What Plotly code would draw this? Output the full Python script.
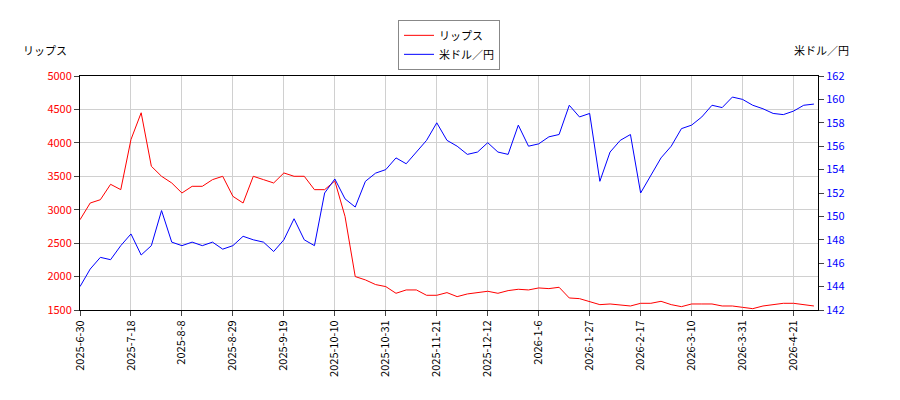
import plotly.graph_objects as go

tick_labels = ["2025-6-30", "2025-7-18", "2025-8-8", "2025-8-29", "2025-9-19", "2025-10-10",
               "2025-10-31", "2025-11-21", "2025-12-12", "2026-1-6", "2026-1-27", "2026-2-17",
               "2026-3-10", "2026-3-31", "2026-4-21"]

ripples = [2850, 3100, 3150, 3380, 3300, 4050, 4450, 3650, 3500, 3400,
           3250, 3350, 3350, 3450, 3500, 3200, 3100, 3500, 3450, 3400,
           3550, 3500, 3500, 3300, 3300, 3430, 2900, 2000, 1950, 1880,
           1850, 1750, 1800, 1800, 1720, 1720, 1760, 1700, 1740, 1760,
           1780, 1750, 1790, 1810, 1800, 1830, 1820, 1840, 1680, 1670,
           1630, 1580, 1590, 1570, 1560, 1600, 1600, 1630, 1580, 1550,
           1590, 1590, 1590, 1560, 1560, 1540, 1520, 1560, 1580, 1600,
           1600, 1580, 1560]

usdjpy = [144, 145.5, 146.5, 146.3, 147.5, 148.5, 146.7, 147.5, 150.5, 147.8,
          147.5, 147.8, 147.5, 147.8, 147.2, 147.5, 148.3, 148, 147.8, 147,
          148, 149.8, 148, 147.5, 152, 153.2, 151.5, 150.8, 153, 153.7,
          154, 155, 154.5, 155.5, 156.5, 158, 156.5, 156, 155.3, 155.5,
          156.3, 155.5, 155.3, 157.8, 156, 156.2, 156.8, 157, 159.5, 158.5,
          158.8, 153, 155.5, 156.5, 157, 152, 153.5, 155, 156, 157.5,
          157.8, 158.5, 159.5, 159.3, 160.2, 160, 159.5, 159.2, 158.8, 158.7,
          159, 159.5, 159.6]

idx = list(range(len(ripples)))
font = "Noto Sans CJK JP"

fig = go.Figure()
fig.add_trace(go.Scatter(x=idx, y=ripples, name="リップス", mode="lines",
                         line=dict(color="red", width=1)))
fig.add_trace(go.Scatter(x=idx, y=usdjpy, name="米ドル／円", mode="lines",
                         line=dict(color="blue", width=1), yaxis="y2"))

axis_common = dict(showline=True, linecolor="black", ticks="outside",
                   gridcolor="#d0d0d0", zeroline=False, automargin=False)
fig.update_layout(
    width=900, height=400, plot_bgcolor="white", paper_bgcolor="white",
    font=dict(family=font, size=11, color="black"),
    margin=dict(l=72, r=90, t=62, b=98),
    xaxis=dict(axis_common, range=[0, 72.4], tickvals=[i * 5 for i in range(len(tick_labels))],
               ticktext=tick_labels, tickangle=-90, mirror=True),
    yaxis=dict(axis_common, range=[1500, 5000], dtick=500, tickfont=dict(color="red"), mirror=True),
    yaxis2=dict(axis_common, range=[142, 162], dtick=2, overlaying="y", side="right",
                showgrid=False, tickfont=dict(color="blue")),
    legend=dict(x=0.5, y=1.24, xanchor="center", yanchor="top", bordercolor="#888",
                borderwidth=1, bgcolor="white"),
    annotations=[
        dict(text="リップス", x=-0.015, y=1.07, xref="paper", yref="paper", xanchor="right",
             yanchor="bottom", showarrow=False),
        dict(text="米ドル／円", x=1.045, y=1.07, xref="paper", yref="paper", xanchor="right",
             yanchor="bottom", showarrow=False),
    ],
)
fig.write_html("out.html")
